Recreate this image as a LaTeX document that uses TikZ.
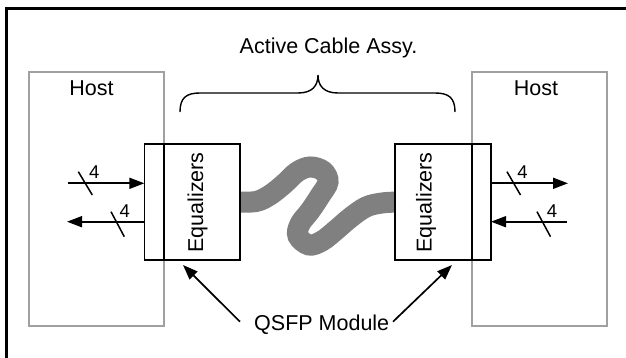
\documentclass[tikz,border=0pt]{standalone}
\usepackage{fontspec}
\setmainfont{Liberation Sans}
\usetikzlibrary{arrows.meta}
\definecolor{hostgray}{RGB}{160,160,160}
\definecolor{cablegray}{RGB}{128,128,128}
\begin{document}
\begin{tikzpicture}[x=1pt,y=-1pt,
  lbl/.style={font=\fontsize{21.5}{25}\selectfont, inner sep=0pt},
  num/.style={font=\fontsize{18.5}{21}\selectfont, inner sep=0pt},
  hostbox/.style={draw=hostgray, line width=1.7pt, inner sep=0pt, outer sep=0pt},
  modbox/.style={draw=black, line width=1.7pt, fill=white, inner sep=0pt, outer sep=0pt},
  sig/.style={line width=1.7pt, -{Triangle[length=15pt,width=11pt]}},
  tick/.style={line width=1.5pt},
  bracepath/.style={line width=1.4pt},
]
\useasboundingbox (0,0) rectangle (626,358);
\clip (0,0) rectangle (626,358);
% outer frame (only top and left edges inside the picture)
\coordinate (fBL) at (6.5,380);
\coordinate (fTL) at (6.5,8.5);
\coordinate (fTR) at (650,8.5);
\draw[line width=2.2pt] (fBL) -- (fTL) -- (fTR);

% host boxes
\node[hostbox, minimum width=135pt, minimum height=254pt] (hostL) at (96.8,198.7) {};
\node[hostbox, minimum width=135pt, minimum height=254pt] (hostR) at (539.5,198.7) {};

% cable
\draw[cablegray, line width=21pt] plot[smooth, tension=0.6] coordinates {
 (236,202) (256,201.5) (270,195) (284,184) (297,172) (310,167) (323,171)
 (328,182) (320,196) (310,211) (300,224) (298,236) (309,245) (322,241)
 (336,230) (350,218) (366,207) (382,203) (399,202)};

% modules
\node[modbox, minimum width=95.7pt, minimum height=115.7pt] (modL) at (192.2,202.2) {};
\node[modbox, minimum width=96pt, minimum height=115.7pt] (modR) at (443,202.2) {};
\draw[line width=1.7pt] (hostL.east |- modL.north) -- (hostL.east |- modL.south);
\draw[line width=1.7pt] (hostR.west |- modR.north) -- (hostR.west |- modR.south);

% texts
\node[lbl, rotate=90, anchor=base] (eqL) at (203,202.5) {Equalizers};
\node[lbl, rotate=90, anchor=base] (eqR) at (431.7,202.5) {Equalizers};
\node[lbl, anchor=base] (hostLt) at (91.5,95.7) {Host};
\node[lbl, anchor=base] (hostRt) at (536,95.7) {Host};
\node[lbl, anchor=base] (acab) at (328.5,54) {Active Cable Assy.};
\node[lbl, anchor=base] (qsfp) at (321.7,330.5) {QSFP Module};

% brace
\draw[bracepath] (180,112) .. controls (180,98) and (186,93) .. (200,93) -- (298,93)
  .. controls (312,93) and (318,86) .. (318,75)
  .. controls (318,86) and (324,93) .. (338,93) -- (435,93)
  .. controls (449,93) and (455,98) .. (455,112);

% signal arrows
\coordinate (aL1) at (68,183.3);
\coordinate (aL2) at (67,221.7);
\coordinate (aR1) at (568,183.3);
\coordinate (aR2) at (567,221.7);
\draw[sig] (aL1) -- (aL1 -| modL.west);
\draw[sig] (aL2 -| modL.west) -- (aL2);
\draw[sig] (aR1 -| modR.east) -- (aR1);
\draw[sig] (aR2) -- (aR2 -| modR.east);

% bus ticks
\coordinate (t1a) at (78.3,171.7); \coordinate (t1b) at (92.3,195);
\coordinate (t2a) at (111,211.7);  \coordinate (t2b) at (124.3,236.7);
\coordinate (t3a) at (507,171.7);  \coordinate (t3b) at (520.5,195);
\coordinate (t4a) at (537,211.7);  \coordinate (t4b) at (550.5,236.7);
\draw[tick] (t1a) -- (t1b);
\draw[tick] (t2a) -- (t2b);
\draw[tick] (t3a) -- (t3b);
\draw[tick] (t4a) -- (t4b);
\node[num, anchor=base] (n1) at (94.2,178.3) {4};
\node[num, anchor=base] (n2) at (124.7,217.3) {4};
\node[num, anchor=base] (n3) at (522.5,178.3) {4};
\node[num, anchor=base] (n4) at (552,217.3) {4};

% QSFP pointers
\coordinate (qL) at (240,321.7);
\coordinate (qLt) at (183,265);
\coordinate (qR) at (393,321.7);
\coordinate (qRt) at (452,265);
\draw[sig] (qL) -- (qLt);
\draw[sig] (qR) -- (qRt);
\end{tikzpicture}
\end{document}
